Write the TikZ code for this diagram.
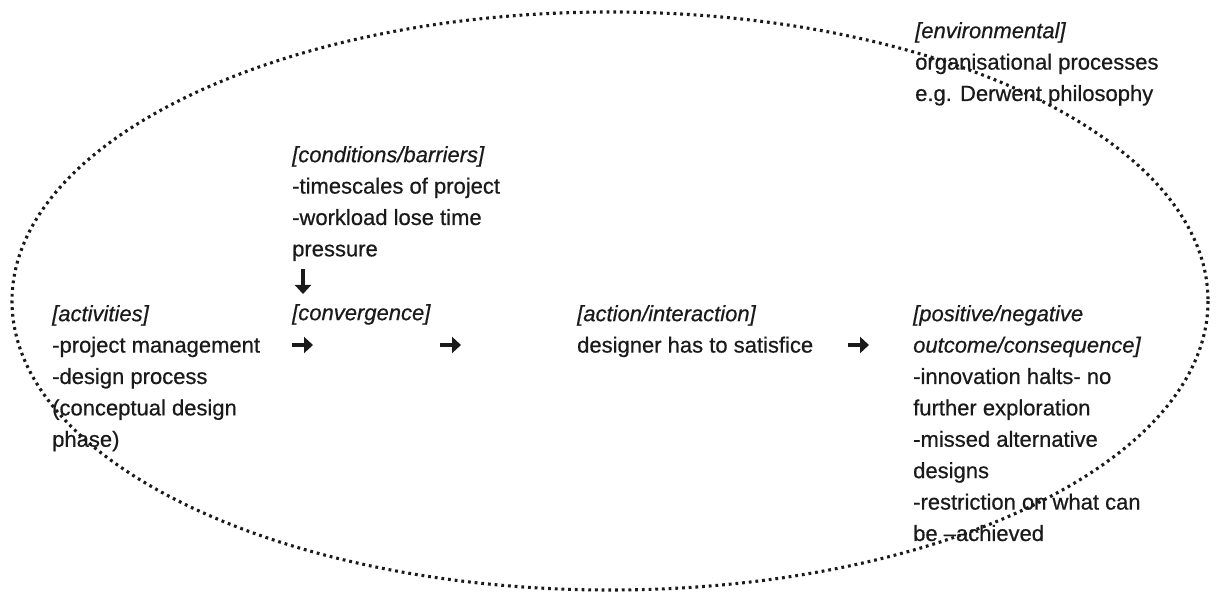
\documentclass[tikz,border=0pt]{standalone}
\usepackage{fontspec}
\setmainfont[FakeBold=0.6]{Liberation Sans}
\usetikzlibrary{arrows.meta}
\definecolor{ink}{HTML}{1A1A1A}
\tikzset{
  txt/.style={anchor=north west, inner sep=0pt, align=left, text=ink,
              font=\fontsize{22}{31.4}\selectfont},
  ring/.style={draw=ink, line width=3.1pt, dash pattern=on 2.8pt off 3.9pt},
  fatarrow/.style={draw=ink, line width=4pt, -{Triangle[length=9pt,width=16pt]}}
}
\begin{document}
\begin{tikzpicture}[x=1pt,y=-1pt]
  \useasboundingbox (0,0) rectangle (1216,593);
  % dotted boundary
  \draw[ring] (610,301) ellipse [x radius=598, y radius=289];

  % environment, top right
  \node[txt] (env) at (915,16) {\strut\textit{[environmental]}\\
    \strut organisational processes\\
    \strut e.g. Derwent philosophy};

  % conditions column
  \node[txt] (cond) at (292,140) {\strut\textit{[conditions/barriers]}\\
    \strut -timescales of project\\
    \strut -workload lose time\\
    \strut pressure};

  % main row
  \node[txt] (act) at (52,299) {\strut\textit{[activities]}\\
    \strut -project management\\
    \strut -design process\\
    \strut (conceptual design\\
    \strut phase)};
  \node[txt] (conv) at (292,298) {\strut\textit{[convergence]}};
  \node[txt] (inter) at (577,299) {\strut\textit{[action/interaction]}\\
    \strut designer has to satisfice};
  \node[txt] (out) at (913,299) {\strut\textit{[positive/negative}\\
    \strut\textit{outcome/consequence]}\\
    \strut -innovation halts- no\\
    \strut further exploration\\
    \strut -missed alternative\\
    \strut designs\\
    \strut -restriction on what can\\
    \strut be \textendash achieved};

  % arrow glyphs
  \coordinate (d0) at (303,269);
  \coordinate (d1) at (303,294);
  \draw[fatarrow] (d0) -- (d1);
  \coordinate (r0) at (292,345);
  \coordinate (r1) at (313,345);
  \draw[fatarrow] (r0) -- (r1);
  \coordinate (s0) at (440,345);
  \coordinate (s1) at (461,345);
  \draw[fatarrow] (s0) -- (s1);
  \coordinate (t0) at (848,345);
  \coordinate (t1) at (869,345);
  \draw[fatarrow] (t0) -- (t1);
\end{tikzpicture}
\end{document}
